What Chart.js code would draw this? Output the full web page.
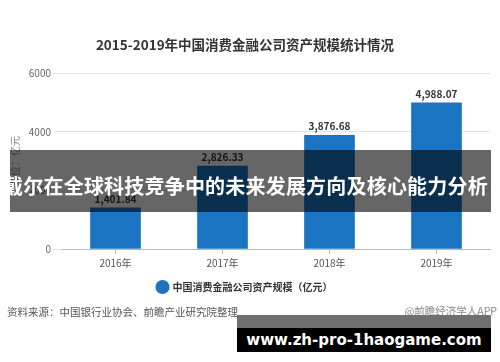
<!DOCTYPE html>
<html><head><meta charset="utf-8">
<script src="https://cdn.jsdelivr.net/npm/chart.js@4.4.1/dist/chart.umd.min.js"></script>
<style>
html,body{margin:0;padding:0;background:#fff;}
#wrap{position:relative;width:500px;height:362px;overflow:hidden;background:#fff;}
canvas{position:absolute;left:0;top:0;}
.ov{position:absolute;white-space:nowrap;font-family:"Noto Sans CJK SC","Noto Sans",sans-serif;}
#src{left:7px;top:304px;font-size:10.5px;color:#555;line-height:16px;}
#brand{right:3px;top:303px;font-size:10.5px;color:#888;line-height:16px;}
#band{left:10px;top:150px;width:481px;height:62px;background:rgba(0,0,0,0.6);}
#bandText{left:0;width:491px;top:172px;height:28px;line-height:28px;text-align:center;color:#fff;font-weight:bold;font-size:20px;letter-spacing:0.2px;}
#urlGray{left:237px;top:315px;width:254px;height:13px;background:#6f6f6f;}
#urlBox{left:237px;top:328px;width:254px;height:24px;background:#000;color:#fff;font-weight:bold;font-size:15px;line-height:24px;text-align:center;font-family:"DejaVu Sans",sans-serif;}
</style></head><body>
<div id="wrap">
<canvas id="c" width="500" height="362"></canvas>
<div class="ov" id="src">资料来源：中国银行业协会、前瞻产业研究院整理</div>
<div class="ov" id="brand">@前瞻经济学人APP</div>
<div class="ov" id="band"></div>
<div class="ov" id="bandText">戴尔在全球科技竞争中的未来发展方向及核心能力分析</div>
<div class="ov" id="urlGray"></div>
<div class="ov" id="urlBox">www.zh-pro-1haogame.com</div>
</div>
<script>
const categories = ['2016年', '2017年', '2018年', '2019年'];
const assetValues = [1401.84, 2826.33, 3876.68, 4988.07];
const seriesName = '中国消费金融公司资产规模（亿元）';
const chartTitle = '2015-2019年中国消费金融公司资产规模统计情况';
const yAxisTitle = '单位：亿元';
const yMin = 0, yMax = 6000, yStep = 2000;

const FONT = '"Noto Sans CJK SC", "Noto Sans", sans-serif';
const fmt = v => v.toLocaleString('en-US', {minimumFractionDigits: 2, maximumFractionDigits: 2});

const valueLabels = {
  id: 'valueLabels',
  afterDatasetsDraw(chart) {
    const ctx = chart.ctx;
    const meta = chart.getDatasetMeta(0);
    ctx.save();
    ctx.font = 'bold 10px ' + FONT;
    ctx.fillStyle = '#333';
    ctx.textAlign = 'center';
    ctx.textBaseline = 'bottom';
    meta.data.forEach((bar, i) => {
      ctx.fillText(fmt(assetValues[i]), bar.x, bar.y - 4);
    });
    ctx.restore();
  }
};

new Chart(document.getElementById('c'), {
  type: 'bar',
  data: {
    labels: categories,
    datasets: [{
      label: seriesName,
      data: assetValues,
      backgroundColor: '#1b74c2',
      borderWidth: 0,
      barThickness: 50
    }]
  },
  options: {
    responsive: false,
    animation: false,
    layout: {padding: {left: 0, right: 10, top: 0, bottom: 60}},
    plugins: {
      title: {
        display: true,
        text: chartTitle,
        color: '#333',
        font: {family: FONT, size: 13.5, weight: 'bold'},
        padding: {top: 37, bottom: 20}
      },
      legend: {
        display: true,
        position: 'bottom',
        labels: {
          usePointStyle: true,
          pointStyle: 'circle',
          boxWidth: 10,
          boxHeight: 10,
          color: '#333',
          font: {family: FONT, size: 10, weight: 'bold'},
          padding: 10
        }
      },
      tooltip: {enabled: false}
    },
    scales: {
      x: {
        grid: {display: true, drawOnChartArea: false, drawTicks: true, tickLength: 5, offset: false, color: '#bbb'},
        border: {display: true, color: '#bbb'},
        ticks: {color: '#555', font: {family: FONT, size: 10}, padding: 3}
      },
      y: {
        min: yMin, max: yMax,
        ticks: {stepSize: yStep, color: '#666', font: {family: FONT, size: 10}, padding: 3,
                callback: v => String(v)},
        grid: {color: '#e3e3e3', drawTicks: true, tickLength: 8},
        border: {display: false},
        title: {display: true, text: yAxisTitle, color: '#888', font: {family: FONT, size: 10}, padding: {top: 9, bottom: 0}},
        afterFit(scale) { scale.width = 62; }
      }
    }
  },
  plugins: [valueLabels]
});
</script>
</body></html>
